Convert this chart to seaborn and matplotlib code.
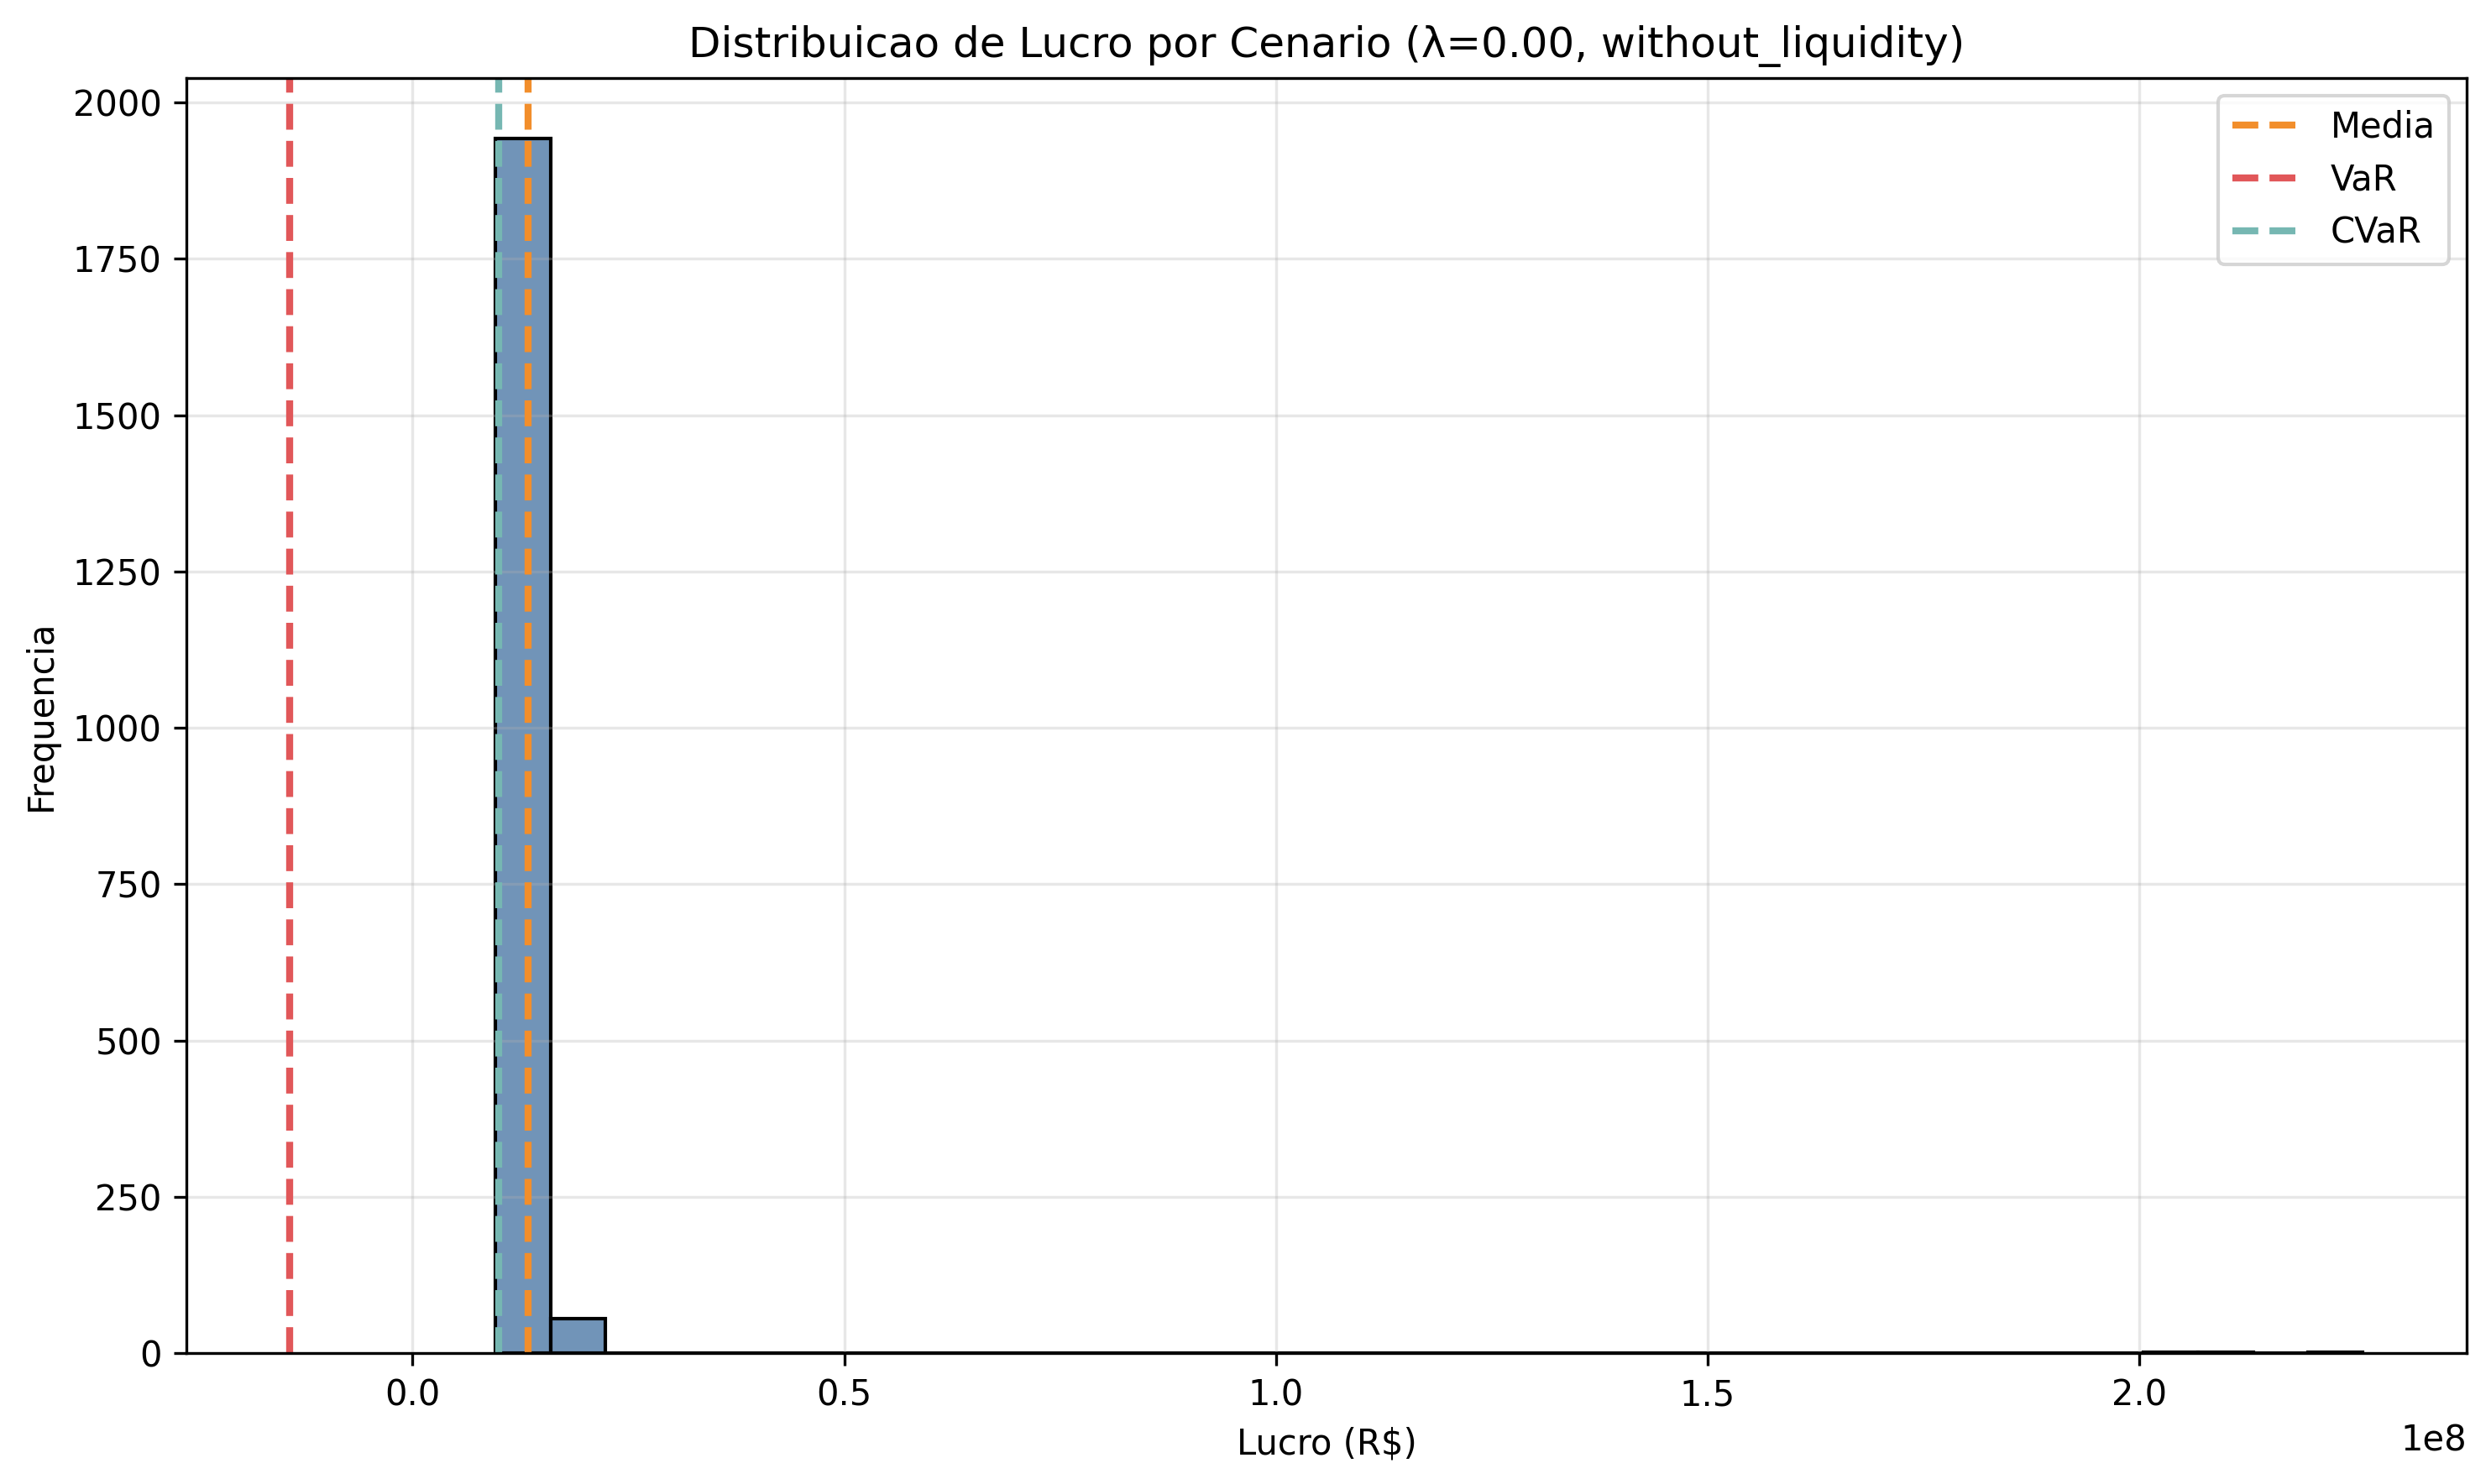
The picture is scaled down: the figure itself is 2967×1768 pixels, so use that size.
import numpy as np
import pandas as pd
import matplotlib
matplotlib.use("Agg")
import matplotlib.pyplot as plt
import seaborn as sns

# histogram (34 equal bins between min and max profit)
lucro_min = 0.0962e8
lucro_max = 2.259e8
n_bins = 34
contagens = [1942, 55, 0, 0, 0, 0, 0, 0, 0, 0,
             0, 0, 0, 0, 0, 0, 0, 0, 0, 0,
             0, 0, 0, 0, 0, 0, 0, 0, 0, 0,
             1, 1, 0, 1]

# risk markers (R$)
media = 0.134e8
var_ = -0.142e8
cvar = 0.100e8

titulo = "Distribuicao de Lucro por Cenario (λ=0.00, without_liquidity)"

edges = np.linspace(lucro_min, lucro_max, n_bins + 1)
df = pd.DataFrame({"lucro": (edges[:-1] + edges[1:]) / 2, "freq": contagens})

plt.rcParams['font.family'] = ['DejaVu Sans']
fig, ax = plt.subplots(figsize=(2967 / 300, 1768 / 300), dpi=300)

sns.histplot(data=df, x="lucro", weights="freq", bins=n_bins,
             binrange=(lucro_min, lucro_max), color="#4E79A7", alpha=0.8,
             edgecolor="black", linewidth=1, ax=ax)

ax.axvline(media, color="#F28E2B", linestyle="--", linewidth=2, label="Media")
ax.axvline(var_, color="#E15759", linestyle="--", linewidth=2, label="VaR")
ax.axvline(cvar, color="#76B7B2", linestyle="--", linewidth=2, label="CVaR")

ax.set_title(titulo)
ax.set_xlabel("Lucro (R$)")
ax.set_ylabel("Frequencia")
ax.grid(True, alpha=0.3)
ax.legend(loc="upper right")

fig.subplots_adjust(left=0.0748, right=0.9902, bottom=0.0882, top=0.9474)
fig.savefig("out.png", dpi=300)
